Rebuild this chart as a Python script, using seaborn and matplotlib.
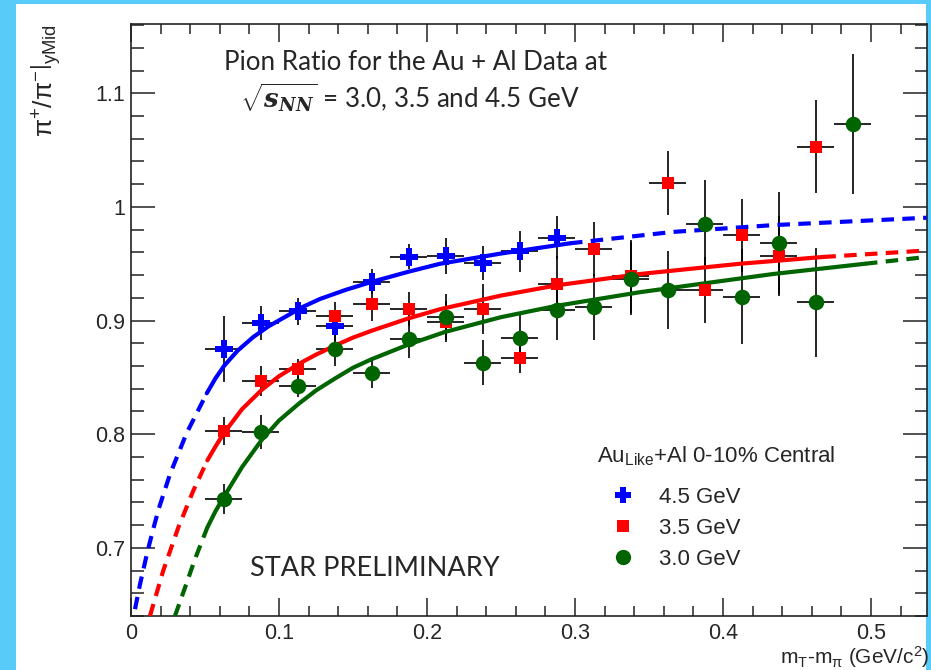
import matplotlib
matplotlib.use("Agg")
import matplotlib.pyplot as plt
import seaborn as sns
import pandas as pd
from matplotlib.lines import Line2D
from matplotlib.patches import Rectangle
from matplotlib.ticker import MultipleLocator

# bin centres (mT - m_pi) and measured ratios
x_bins = [0.0625, 0.0875, 0.1125, 0.1375, 0.1625, 0.1875, 0.2125, 0.2375, 0.2625,
          0.2875, 0.3125, 0.3375, 0.3625, 0.3875, 0.4125, 0.4375, 0.4625, 0.4875]
x_half = 0.0125

ratio_45 = [0.875, 0.898, 0.908, 0.895, 0.934, 0.956, 0.957, 0.951, 0.961, 0.973]
err_45 = [0.029, 0.015, 0.012, 0.013, 0.011, 0.011, 0.016, 0.015, 0.018, 0.019]

ratio_35 = [0.803, 0.847, 0.857, 0.904, 0.915, 0.910, 0.899, 0.910, 0.867, 0.932,
            0.963, 0.939, 1.021, 0.927, 0.975, 0.957, 1.053]
err_35 = [0.0125, 0.013, 0.009, 0.012, 0.015, 0.015, 0.018, 0.022, 0.013, 0.025,
          0.024, 0.032, 0.028, 0.029, 0.032, 0.035, 0.041]

ratio_30 = [0.743, 0.802, 0.842, 0.875, 0.854, 0.884, 0.903, 0.863, 0.885, 0.909,
            0.912, 0.937, 0.927, 0.985, 0.921, 0.968, 0.916, 1.073]
err_30 = [0.013, 0.015, 0.009, 0.015, 0.013, 0.017, 0.020, 0.020, 0.022, 0.026,
          0.029, 0.032, 0.034, 0.039, 0.042, 0.045, 0.048, 0.062]

# fit curves
fit45_x = [0.0027, 0.0061, 0.011, 0.0151, 0.0189, 0.0264, 0.0376, 0.0512, 0.057, 0.0628,
           0.072, 0.0826, 0.093, 0.1052, 0.116, 0.1277, 0.145, 0.1625, 0.1875, 0.2088,
           0.25, 0.2966, 0.366, 0.434, 0.5376]
fit45_y = [0.646, 0.668, 0.696, 0.717, 0.735, 0.765, 0.801, 0.836, 0.849, 0.860,
           0.8735, 0.8855, 0.895, 0.904, 0.912, 0.919, 0.927, 0.934, 0.943, 0.950,
           0.959, 0.968, 0.978, 0.984, 0.9905]
fit35_x = [0.0128, 0.0218, 0.032, 0.042, 0.0516, 0.057, 0.0628, 0.075, 0.0883, 0.1,
           0.1135, 0.125, 0.1378, 0.15, 0.1625, 0.1876, 0.2088, 0.25, 0.2876, 0.344,
           0.4115, 0.4678, 0.5376]
fit35_y = [0.640, 0.680, 0.718, 0.750, 0.777, 0.789, 0.801, 0.822, 0.839, 0.851,
           0.862, 0.870, 0.878, 0.885, 0.891, 0.902, 0.910, 0.922, 0.931, 0.941,
           0.950, 0.956, 0.9617]
fit30_x = [0.0297, 0.0365, 0.0432, 0.0516, 0.057, 0.0628, 0.075, 0.0883, 0.1, 0.1135,
           0.125, 0.1378, 0.15, 0.1626, 0.1876, 0.2122, 0.25, 0.2876, 0.344, 0.4,
           0.434, 0.4959, 0.5376]
fit30_y = [0.640, 0.665, 0.690, 0.718, 0.732, 0.745, 0.771, 0.795, 0.812, 0.827,
           0.8385, 0.849, 0.8585, 0.866, 0.879, 0.890, 0.903, 0.913, 0.925, 0.935,
           0.941, 0.950, 0.956]

# solid part of each fit (dashed outside)
fit45_range = (0.0512, 0.2966)
fit35_range = (0.0516, 0.4678)
fit30_range = (0.0516, 0.4959)

blue = "#0000ff"
red = "#ff0000"
green = "#006400"

sns.set_style("ticks")
plt.rcParams["font.family"] = ["Liberation Sans", "DejaVu Sans"]
plt.rcParams["mathtext.fontset"] = "custom"
plt.rcParams["mathtext.rm"] = "Liberation Sans"
plt.rcParams["mathtext.it"] = "DejaVu Serif:italic:bold"

fig = plt.figure(figsize=(9.31, 6.70), dpi=100)
fig.patch.set_facecolor("#58cbf8")
fig.patches.append(Rectangle((16 / 931, 0), 910 / 931, 666 / 670, transform=fig.transFigure,
                             facecolor="white", edgecolor="none", zorder=-10))
ax = fig.add_axes([131 / 931, 54 / 670, 796 / 931, 592 / 670])
ax.set_zorder(1)

# error bars
series = [(ratio_45, err_45), (ratio_35, err_35), (ratio_30, err_30)]
for vals, errs in series:
    n = len(vals)
    ax.errorbar(x_bins[:n], vals, yerr=errs, xerr=x_half, fmt="none",
                ecolor="black", elinewidth=1.2, capsize=0, zorder=2)


def draw_fit(fx, fy, rng, color):
    df = pd.DataFrame({"x": fx, "y": fy})
    lo, hi = rng
    left = df[df.x <= lo]
    mid = df[(df.x >= lo) & (df.x <= hi)]
    right = df[df.x >= hi]
    for part, ls in [(left, (0, (3, 2))), (mid, "-"), (right, (0, (3, 2)))]:
        sns.lineplot(data=part, x="x", y="y", ax=ax, color=color, linewidth=3,
                     linestyle=ls, sort=False, errorbar=None, zorder=3)


draw_fit(fit45_x, fit45_y, fit45_range, blue)
draw_fit(fit35_x, fit35_y, fit35_range, red)
draw_fit(fit30_x, fit30_y, fit30_range, green)

sns.scatterplot(x=x_bins[:len(ratio_45)], y=ratio_45, ax=ax, marker="P", s=150,
                color=blue, edgecolor=blue, linewidth=0, zorder=4)
sns.scatterplot(x=x_bins[:len(ratio_35)], y=ratio_35, ax=ax, marker="s", s=80,
                color=red, edgecolor=red, linewidth=0, zorder=4)
sns.scatterplot(x=x_bins[:len(ratio_30)], y=ratio_30, ax=ax, marker="o", s=125,
                color=green, edgecolor=green, linewidth=0, zorder=4)

ax.set_xlim(0, 0.5378)
ax.set_ylim(0.640, 1.161)
ax.xaxis.set_major_locator(MultipleLocator(0.1))
ax.xaxis.set_minor_locator(MultipleLocator(0.02))
ax.yaxis.set_major_locator(MultipleLocator(0.1))
ax.yaxis.set_minor_locator(MultipleLocator(0.02))
ax.set_xticks([0, 0.1, 0.2, 0.3, 0.4, 0.5])
ax.set_xticklabels(["0", "0.1", "0.2", "0.3", "0.4", "0.5"])
ax.set_yticks([0.7, 0.8, 0.9, 1.0, 1.1])
ax.set_yticklabels(["0.7", "0.8", "0.9", "1", "1.1"])
ax.tick_params(axis="x", which="major", direction="in", top=True, length=13, width=1.1,
               pad=5, labelsize=15.5, color="#222222")
ax.tick_params(axis="x", which="minor", direction="in", top=True, length=7, width=1.1,
               color="#222222")
ax.tick_params(axis="y", which="major", direction="in", right=True, length=17, width=1.1,
               pad=4, labelsize=15.5, color="#222222")
ax.tick_params(axis="y", which="minor", direction="in", right=True, length=9, width=1.1,
               color="#222222")
for sp in ax.spines.values():
    sp.set_linewidth(1.2)
    sp.set_color("#222222")
ax.set_xlabel("")
ax.set_ylabel("")

fig.text(929 / 931, 1 - 657 / 670, r"m$_{\mathrm{T}}$-m$_{\mathrm{\pi}}$ (GeV/c$^{2}$)",
         ha="right", va="center", fontsize=15)
fig.text(46 / 931, 1 - 24 / 670,
         r"$\left.\mathrm{\pi}^{+}/\mathrm{\pi}^{-}\right|_{\mathrm{yMid}}$",
         rotation=90, ha="center", va="top", fontsize=19)

# annotations
fig.text(416 / 931, 1 - 62 / 670, "Pion Ratio for the Au + Al Data at",
         ha="center", va="center", fontsize=18.7, family="Lato")
fig.text(410 / 931, 1 - 98 / 670, r"$\sqrt{s_{NN}}$ = 3.0, 3.5 and 4.5 GeV",
         ha="center", va="center", fontsize=18.7, family="Lato")
fig.text(250 / 931, 1 - 568 / 670, "STAR PRELIMINARY", ha="left", va="center",
         fontsize=19.5, family="Lato")

# legend
fig.text(597 / 931, 1 - 456 / 670, r"Au$_{\mathrm{Like}}$+Al 0-10% Central",
         ha="left", va="center", fontsize=16)
handles = [
    Line2D([], [], marker="P", color=blue, linestyle="none", markersize=12, markeredgewidth=0),
    Line2D([], [], marker="s", color=red, linestyle="none", markersize=9, markeredgewidth=0),
    Line2D([], [], marker="o", color=green, linestyle="none", markersize=11, markeredgewidth=0),
]
leg = ax.legend(handles, ["4.5 GeV", "3.5 GeV", "3.0 GeV"], frameon=False,
                fontsize=16, loc="upper left",
                bbox_to_anchor=(0.585, 0.218), handlelength=2.4, handletextpad=0.4,
                labelspacing=0.45, borderaxespad=0, borderpad=0)

fig.savefig("out.png", dpi=100, facecolor=fig.get_facecolor())
